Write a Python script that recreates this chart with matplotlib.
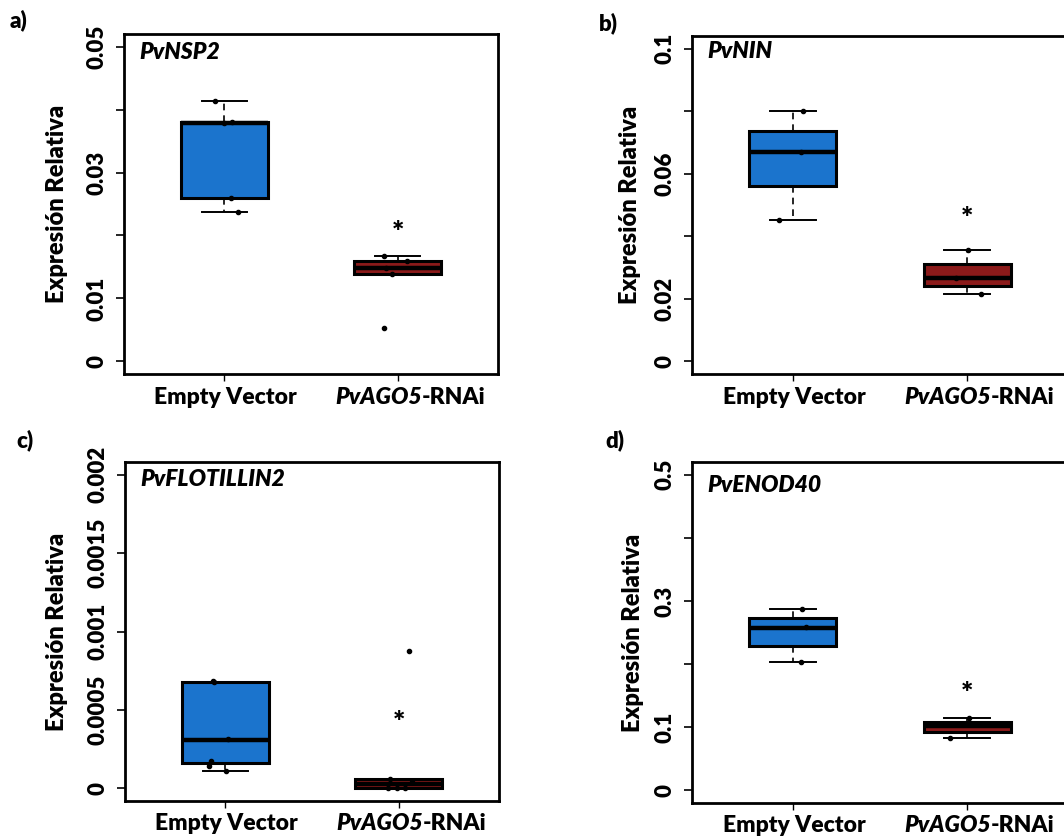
import numpy as np
import matplotlib
matplotlib.use("Agg")
import matplotlib.pyplot as plt

plt.rcParams['font.family'] = ['Lato', 'DejaVu Sans']

W, H = 1064, 839
FW = 'heavy'

groups = ['Empty Vector', 'PvAGO5-RNAi']
genes = ['PvNSP2', 'PvNIN', 'PvFLOTILLIN2', 'PvENOD40']
letters = ['a)', 'b)', 'c)', 'd)']

# box stats: (whislo, q1, med, q3, whishi)
a_ev = [0.0237, 0.0259, 0.0379, 0.0380, 0.0414]
a_rn = [0.0139, 0.0139, 0.0149, 0.0159, 0.0167]
b_ev = [0.0451, 0.0560, 0.0669, 0.0735, 0.0801]
b_rn = [0.0217, 0.0241, 0.0266, 0.0310, 0.0356]
c_ev = [0.000114, 0.000161, 0.000309, 0.000681, 0.000681]
c_rn = [0.0, 0.000002, 0.000027, 0.000059, 0.00006]
d_ev = [0.203, 0.229, 0.257, 0.273, 0.2875]
d_rn = [0.0834, 0.0923, 0.1013, 0.1076, 0.1144]

# individual points
a_ev_pts = [0.0414, 0.0380, 0.0379, 0.0259, 0.0237]
a_rn_pts = [0.0167, 0.0159, 0.0149, 0.0139, 0.0053]
b_ev_pts = [0.0801, 0.0670, 0.0451]
b_rn_pts = [0.0356, 0.0268, 0.0217]
c_ev_pts = [0.000683, 0.000678, 0.000318, 0.000175, 0.000141, 0.000113]
c_rn_pts = [0.00006, 0.00004, 0.0, 0.0, 0.0, 0.000874]
d_ev_pts = [0.2875, 0.258, 0.203]
d_rn_pts = [0.1144, 0.105, 0.0834]

# jitter of the points as drawn
a_ev_jit = [-0.054, 0.045, 0.0, 0.04, 0.077]
a_rn_jit = [-0.077, 0.052, -0.064, -0.03, -0.077]
b_ev_jit = [0.059, 0.049, -0.078]
b_rn_jit = [0.004, -0.063, 0.078]
c_ev_jit = [-0.071, -0.065, 0.015, -0.081, -0.094, 0.006]
c_rn_jit = [-0.048, 0.077, -0.062, -0.01, 0.035, 0.062]
d_ev_jit = [0.052, 0.076, 0.045]
d_rn_jit = [0.014, -0.035, -0.097]

stars = [0.0215, 0.0477, 0.000459, 0.1635]

ymax = [0.05, 0.1, 0.002, 0.5]
yticks = [np.arange(0, 0.051, 0.01), np.arange(0, 0.101, 0.02),
          np.arange(0, 0.00201, 0.0005), np.arange(0, 0.51, 0.1)]
ylabels = [['0', '0.01', '', '0.03', '', '0.05'],
           ['0', '0.02', '', '0.06', '', '0.1'],
           ['0', '0.0005', '0.001', '0.0015', '0.002'],
           ['0', '0.1', '', '0.3', '', '0.5']]

# axes boxes in pixels (left, top, right, bottom)
boxes_px = [(124, 34, 498, 374), (692, 36, 1068, 374),
            (125, 462, 499, 801), (692, 462, 1068, 803)]
letter_px = [(19, 20), (608, 23), (25, 440), (615, 440)]
ylab_x = [-0.180, -0.166, -0.183, -0.156]
title_y = [0.947, 0.953, 0.947, 0.93]

blue = '#1B74CD'
red = '#8B1A1A'

panels = [(a_ev, a_rn, a_ev_pts, a_rn_pts, a_ev_jit, a_rn_jit),
          (b_ev, b_rn, b_ev_pts, b_rn_pts, b_ev_jit, b_rn_jit),
          (c_ev, c_rn, c_ev_pts, c_rn_pts, c_ev_jit, c_rn_jit),
          (d_ev, d_rn, d_ev_pts, d_rn_pts, d_ev_jit, d_rn_jit)]

fig = plt.figure(figsize=(W / 100, H / 100), dpi=100)
renderer = fig.canvas.get_renderer()

for i, (ev, rn, ev_pts, rn_pts, ev_jit, rn_jit) in enumerate(panels):
    l, t, r, b = boxes_px[i]
    ax = fig.add_axes([l / W, 1 - b / H, (r - l) / W, (b - t) / H])
    stats = []
    for s, name in zip([ev, rn], groups):
        stats.append(dict(whislo=s[0], q1=s[1], med=s[2], q3=s[3], whishi=s[4],
                          fliers=[], label=name))
    bp = ax.bxp(stats, positions=[1, 2], widths=0.5, patch_artist=True,
                showfliers=False, capwidths=0.26,
                boxprops=dict(linewidth=2.2, edgecolor='black'),
                medianprops=dict(color='black', linewidth=3.2),
                whiskerprops=dict(color='black', linewidth=1.2, linestyle=(0, (4, 3))),
                capprops=dict(color='black', linewidth=1.4))
    bp['boxes'][0].set_facecolor(blue)
    bp['boxes'][1].set_facecolor(red)

    ax.scatter(1 + np.array(ev_jit), ev_pts, s=9, color='black', zorder=5)
    ax.scatter(2 + np.array(rn_jit), rn_pts, s=9, color='black', zorder=5)
    ax.annotate('*', xy=(2, stars[i]), xytext=(0, -5), textcoords='offset points',
                ha='center', va='center', fontsize=21, fontweight=FW)

    ax.set_xlim(0.42, 2.58)
    ax.set_ylim(-0.04 * ymax[i], 1.04 * ymax[i])
    ax.set_yticks(yticks[i])
    ax.set_yticklabels(ylabels[i], rotation=90, va='center', fontsize=16,
                       fontweight=FW)
    ax.set_xticks([1, 2])
    ax.set_xticklabels(['', ''])
    ax.tick_params(axis='y', length=6, width=1.2, pad=6)
    ax.tick_params(axis='x', length=5, width=1.0, pad=6)
    for sp in ax.spines.values():
        sp.set_linewidth(2.0)

    ax.set_ylabel('Expresión Relativa', fontsize=17, fontweight=FW,
                  va='center')
    ax.yaxis.set_label_coords(ylab_x[i], 0.5)

    ax.text(0.04, title_y[i], genes[i], transform=ax.transAxes, ha='left',
            va='center', fontsize=16.5, fontweight=FW, style='italic')

    # x labels: plain and mixed italic
    ax.annotate(groups[0], xy=(1, 0), xycoords=('data', 'axes fraction'),
                xytext=(1, -9), textcoords='offset points', ha='center',
                va='top', fontsize=16.5, fontweight=FW)
    t1 = ax.text(0, 0, 'PvAGO5', fontsize=16.5, fontweight=FW, style='italic')
    t2 = ax.text(0, 0, '-RNAi', fontsize=16.5, fontweight=FW)
    w1 = t1.get_window_extent(renderer).width * 72 / fig.dpi
    w2 = t2.get_window_extent(renderer).width * 72 / fig.dpi
    t1.remove()
    t2.remove()
    dx = (w1 - w2) / 2 + 9
    a1 = ax.annotate('PvAGO5', xy=(2, 0), xycoords=('data', 'axes fraction'),
                     xytext=(dx, -9), textcoords='offset points', ha='right',
                     va='top', fontsize=16.5, fontweight=FW, style='italic')
    ax.annotate('-RNAi', xy=(1, 0), xycoords=a1, ha='left', va='bottom',
                fontsize=16.5, fontweight=FW)

    lx, ly = letter_px[i]
    fig.text(lx / W, 1 - ly / H, letters[i], ha='center', va='center',
             fontsize=16, fontweight=FW)

fig.savefig('out.png', dpi=100)
